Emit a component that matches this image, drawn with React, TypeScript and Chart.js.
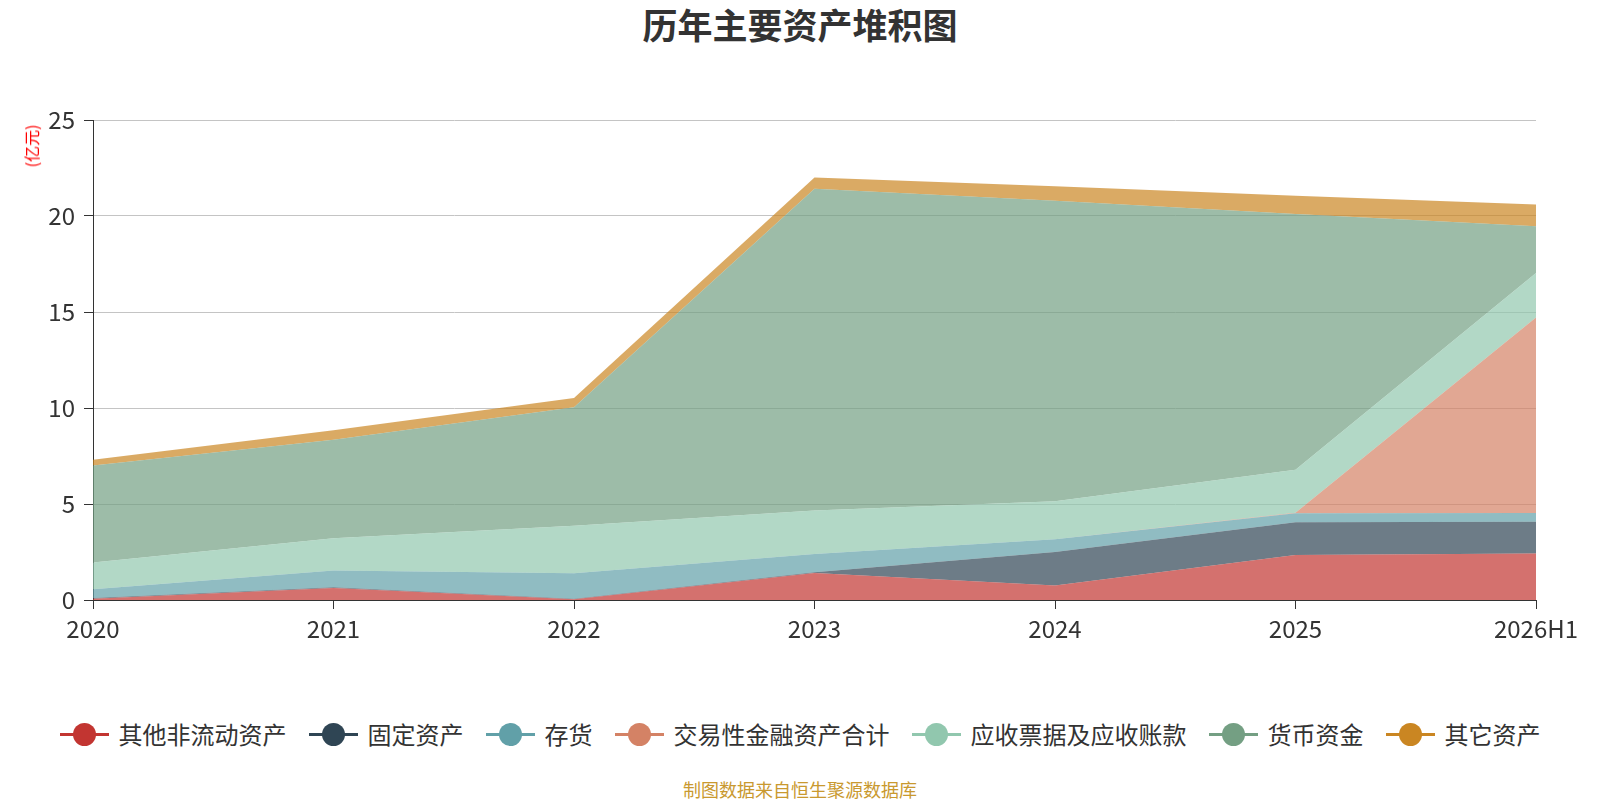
import { useEffect, useRef } from "react";
import { Chart, registerables } from "chart.js";

Chart.register(...registerables);

// Dữ liệu (đơn vị: 亿元)
const categories = ["2020", "2021", "2022", "2023", "2024", "2025", "2026H1"];
const otherNonCurrent = [0.07, 0.63, 0.04, 1.4, 0.75, 2.35, 2.42];
const fixedAssets = [0.03, 0.03, 0.02, 0.05, 1.75, 1.7, 1.66];
const inventory = [0.46, 0.87, 1.33, 0.95, 0.66, 0.47, 0.45];
const tradingFinancial = [0, 0, 0, 0, 0, 0.03, 10.19];
const receivables = [1.39, 1.68, 2.48, 2.26, 1.98, 2.24, 2.31];
const cash = [5.05, 5.14, 6.17, 16.76, 15.66, 13.31, 2.43];
const otherAssets = [0.3, 0.49, 0.48, 0.58, 0.75, 0.95, 1.14];

const seriesNames = [
  "其他非流动资产",
  "固定资产",
  "存货",
  "交易性金融资产合计",
  "应收票据及应收账款",
  "货币资金",
  "其它资产",
];
const seriesValues = [
  otherNonCurrent,
  fixedAssets,
  inventory,
  tradingFinancial,
  receivables,
  cash,
  otherAssets,
];
const colors = ["#c23531", "#2f4554", "#61a0a8", "#d48265", "#91c7ae", "#749f83", "#ca8622"];

const FONT = "'Noto Sans CJK SC', 'Noto Sans', sans-serif";

const hexToRgba = (hex: string, a: number) => {
  const n = parseInt(hex.slice(1), 16);
  return `rgba(${(n >> 16) & 255}, ${(n >> 8) & 255}, ${n & 255}, ${a})`;
};

const App = () => {
  const canvasRef = useRef<HTMLCanvasElement>(null);

  useEffect(() => {
    document.body.style.margin = "0";
    if (!canvasRef.current) return;
    const chart = new Chart(canvasRef.current, {
      type: "line",
      data: {
        labels: categories,
        datasets: seriesNames.map((name, i) => ({
          label: name,
          data: seriesValues[i],
          backgroundColor: hexToRgba(colors[i], 0.7),
          borderColor: "transparent",
          borderWidth: 0,
          pointRadius: 0,
          pointHoverRadius: 0,
          tension: 0,
          fill: i === 0 ? "origin" : "-1",
        })),
      },
      options: {
        animation: false,
        responsive: false,
        maintainAspectRatio: false,
        layout: { padding: { left: 0, right: 64, top: 120, bottom: 0 } },
        plugins: {
          legend: { display: false },
          tooltip: { enabled: false },
          title: { display: false },
        },
        scales: {
          x: {
            offset: false,
            grid: {
              drawOnChartArea: false,
              drawTicks: true,
              tickLength: 9,
              tickColor: "#333",
            },
            border: { color: "#333", width: 1 },
            ticks: {
              color: "#333",
              font: { size: 24, family: FONT },
              padding: 5,
              maxRotation: 0,
              autoSkip: false,
            },
            afterFit: (scale: any) => {
              scale.height = 60;
            },
          },
          y: {
            stacked: true,
            min: 0,
            max: 25,
            grid: {
              color: "#c4c4c4",
              tickColor: "#333",
              tickLength: 9,
            },
            border: { color: "#333", width: 1 },
            ticks: {
              stepSize: 5,
              color: "#333",
              font: { size: 24, family: FONT },
              padding: 9,
            },
            afterFit: (scale: any) => {
              scale.width = 93;
            },
          },
        },
      },
    });
    return () => chart.destroy();
  }, []);

  return (
    <div style={{ position: "relative", width: 1600, height: 800, background: "#fff", fontFamily: FONT, overflow: "hidden" }}>
      <div
        style={{
          position: "absolute",
          top: 0,
          left: 0,
          width: 1600,
          textAlign: "center",
          fontSize: 35,
          lineHeight: "48px",
          fontWeight: "bold",
          color: "#333",
        }}
      >
        历年主要资产堆积图
      </div>
      <canvas ref={canvasRef} width={1600} height={660} style={{ position: "absolute", top: 0, left: 0, width: 1600, height: 660 }} />
      <div
        style={{
          position: "absolute",
          left: 31,
          top: 146,
          transform: "translate(-50%, -50%) rotate(-90deg)",
          fontSize: 16,
          lineHeight: "16px",
          color: "red",
          whiteSpace: "nowrap",
        }}
      >
        (亿元)
      </div>
      <div
        style={{
          position: "absolute",
          top: 719,
          left: 0,
          width: 1600,
          height: 30,
          display: "flex",
          justifyContent: "center",
          alignItems: "center",
        }}
      >
        {seriesNames.map((name, i) => (
          <div key={name} style={{ display: "flex", alignItems: "center", marginLeft: i === 0 ? 0 : 22 }}>
            <div style={{ position: "relative", width: 49, height: 24 }}>
              <div style={{ position: "absolute", left: 0, top: 11, width: 49, height: 3, background: colors[i] }} />
              <div
                style={{
                  position: "absolute",
                  left: 13,
                  top: 1,
                  width: 23,
                  height: 23,
                  borderRadius: "50%",
                  background: colors[i],
                }}
              />
            </div>
            <span style={{ marginLeft: 10, fontSize: 24, lineHeight: "30px", color: "#333", whiteSpace: "nowrap" }}>{name}</span>
          </div>
        ))}
      </div>
      <div
        style={{
          position: "absolute",
          top: 779,
          left: 0,
          width: 1600,
          textAlign: "center",
          fontSize: 18,
          lineHeight: "20px",
          color: "#c9992f",
        }}
      >
        制图数据来自恒生聚源数据库
      </div>
    </div>
  );
};

export default App;
